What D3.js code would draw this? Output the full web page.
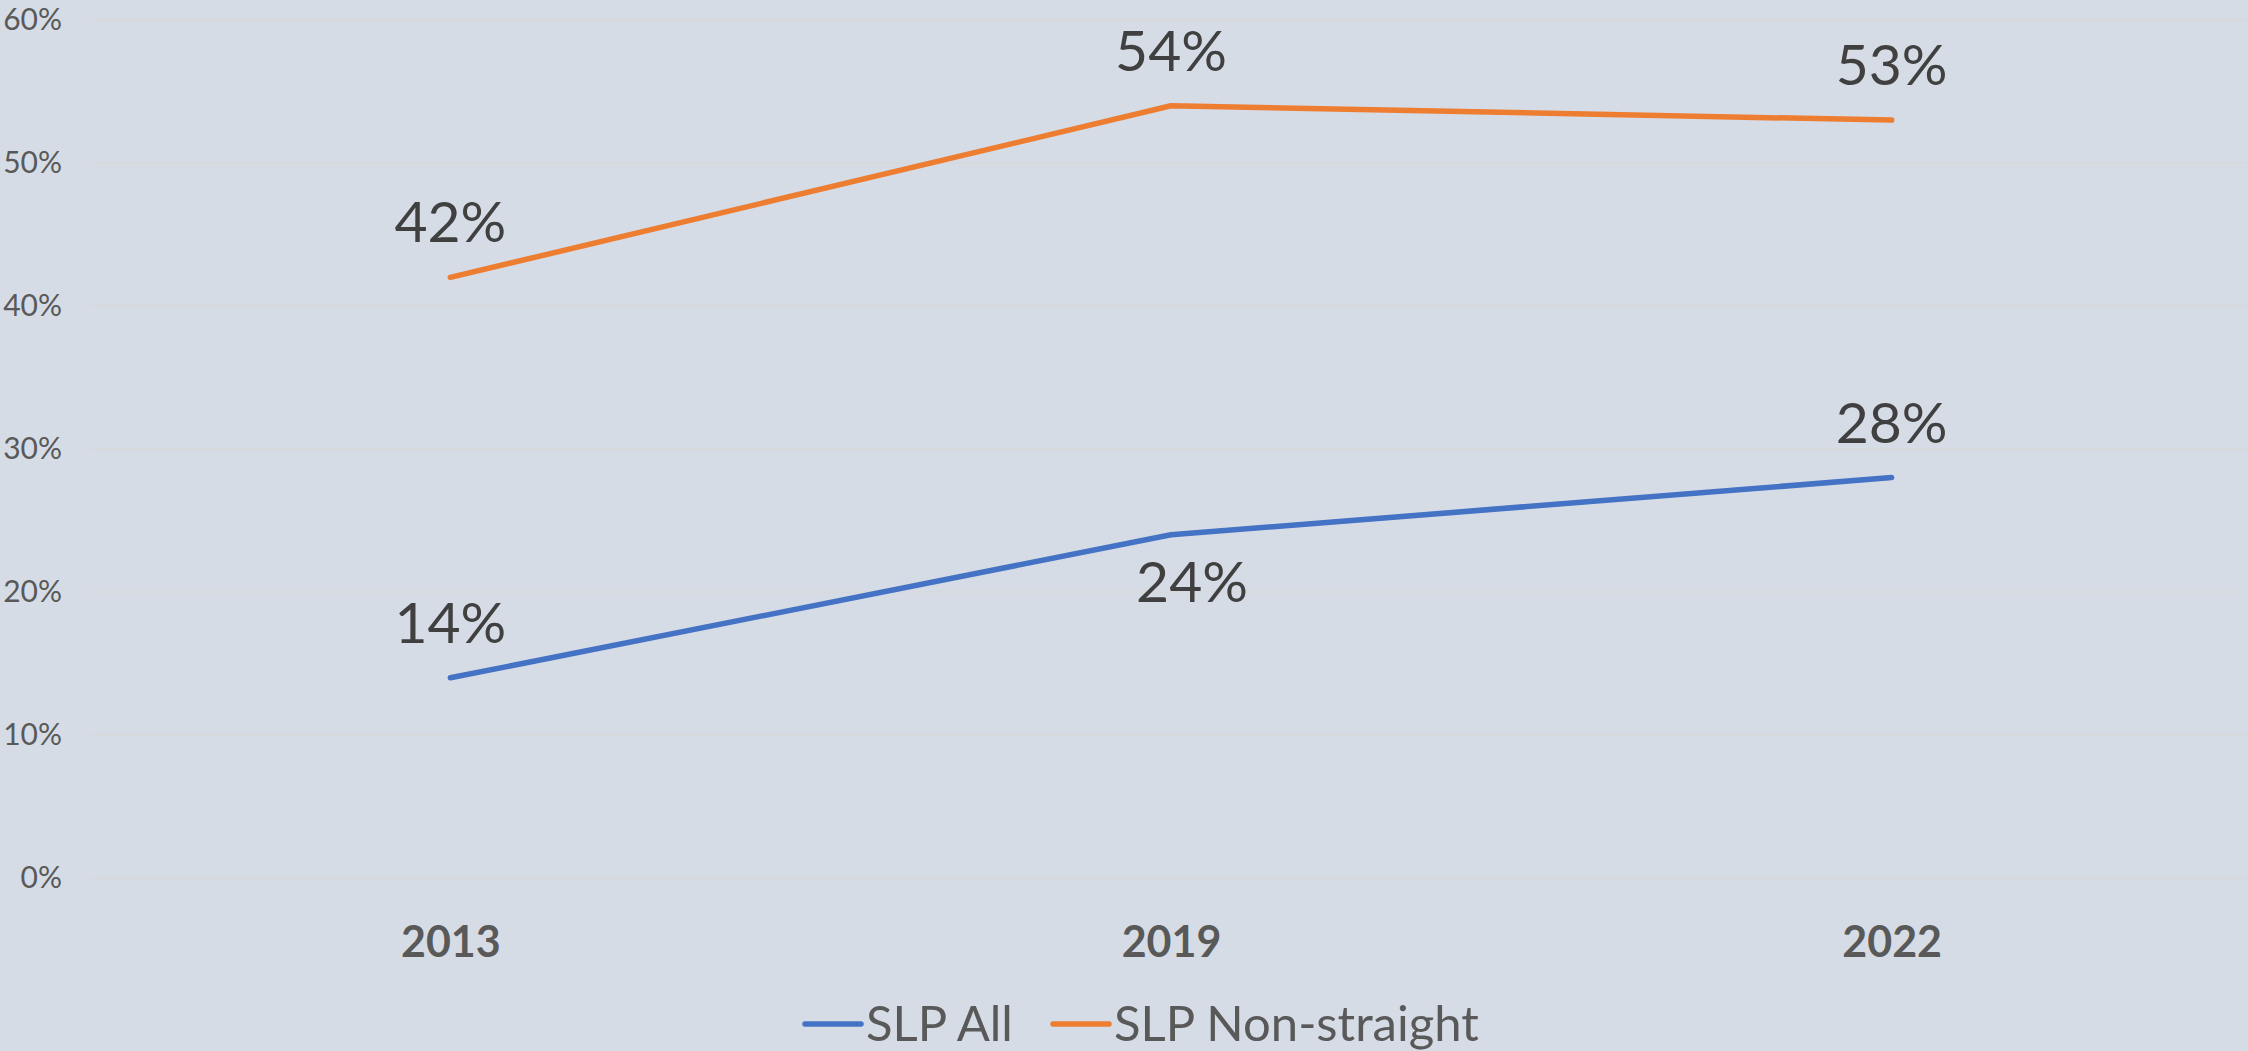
<!DOCTYPE html>
<html>
<head>
<meta charset="utf-8">
<script src="https://cdn.jsdelivr.net/npm/d3@7"></script>
<style>
  html, body { margin: 0; padding: 0; background: #D6DCE5; }
  svg { display: block; font-family: Lato, "Open Sans", sans-serif; }
</style>
</head>
<body>
<svg id="chart"></svg>
<script>
// Datos
const years = ["2013", "2019", "2022"];
const slpAll = [0.14, 0.24, 0.28];
const slpNonStraight = [0.42, 0.54, 0.53];
const yTicks = [0, 0.1, 0.2, 0.3, 0.4, 0.5, 0.6];
const seriesNames = ["SLP All", "SLP Non-straight"];

const seriesColors = ["#4472C4", "#ED7D31"];

const width = 2248;
const height = 1051;

const svg = d3.select("#chart")
              .attr("width", width)
              .attr("height", height);

svg.append("rect")
   .attr("width", width)
   .attr("height", height)
   .attr("fill", "#D6DCE5");

// Escalas
const xScale = d3.scalePoint()
                 .domain(years)
                 .range([90, 2252])
                 .padding(0.5);

const yScale = d3.scaleLinear()
                 .domain([0, 0.6])
                 .range([878, 20]);

// Líneas de cuadrícula
svg.append("g")
   .selectAll("line")
   .data(yTicks)
   .enter()
   .append("line")
   .attr("x1", 90)
   .attr("x2", width)
   .attr("y1", d => yScale(d))
   .attr("y2", d => yScale(d))
   .attr("stroke", "#D9D9D9")
   .attr("stroke-width", 1.5);

// Eje Y
const yAxis = svg.append("g")
   .attr("transform", "translate(62,0)")
   .call(d3.axisLeft(yScale).tickValues(yTicks).tickFormat(d3.format(".0%")).tickSize(0).tickPadding(0));
yAxis.select(".domain").remove();
yAxis.selectAll("text")
     .attr("fill", "#595959")
     .attr("font-size", 30)
     .attr("font-family", "Lato, sans-serif");

// Eje X
const xAxis = svg.append("g")
   .attr("transform", "translate(0,878)")
   .call(d3.axisBottom(xScale).tickSize(0).tickPadding(0));
xAxis.select(".domain").remove();
xAxis.selectAll("text")
     .attr("y", 79)
     .attr("dy", 0)
     .attr("fill", "#595959")
     .attr("font-size", 43)
     .attr("font-weight", "bold")
     .attr("font-family", "Lato, sans-serif");

// Series
const series = [slpAll, slpNonStraight].map((values, s) => ({
  name: seriesNames[s],
  color: seriesColors[s],
  index: s,
  points: values.map((v, i) => ({ year: years[i], value: v, i: i }))
}));

const line = d3.line()
               .x(d => xScale(d.year))
               .y(d => yScale(d.value));

svg.selectAll(".serie")
   .data(series)
   .enter()
   .append("path")
   .attr("class", "serie")
   .attr("d", d => line(d.points))
   .attr("fill", "none")
   .attr("stroke", d => d.color)
   .attr("stroke-width", 5.5)
   .attr("stroke-linecap", "round")
   .attr("stroke-linejoin", "round");

// Etiquetas de datos (24% va debajo del punto)
series.forEach(s => {
  svg.append("g")
     .selectAll("text")
     .data(s.points)
     .enter()
     .append("text")
     .attr("x", d => xScale(d.year) + (s.index === 0 && d.i === 1 ? 21 : 0))
     .attr("y", d => yScale(d.value) + (s.index === 0 && d.i === 1 ? 67 : -35))
     .attr("text-anchor", "middle")
     .attr("fill", "#404040")
     .attr("font-size", 57)
     .text(d => d3.format(".0%")(d.value));
});

// Leyenda
const legendX = [805, 1053];
const legend = svg.append("g")
   .selectAll("g")
   .data(series)
   .enter()
   .append("g")
   .attr("transform", (d, i) => `translate(${legendX[i]},1024)`);

legend.append("line")
      .attr("x1", 0)
      .attr("x2", 56)
      .attr("stroke", d => d.color)
      .attr("stroke-width", 5.5)
      .attr("stroke-linecap", "round");

legend.append("text")
      .attr("x", 61)
      .attr("y", 17)
      .attr("fill", "#595959")
      .attr("font-size", 49)
      .text(d => d.name);
</script>
</body>
</html>
